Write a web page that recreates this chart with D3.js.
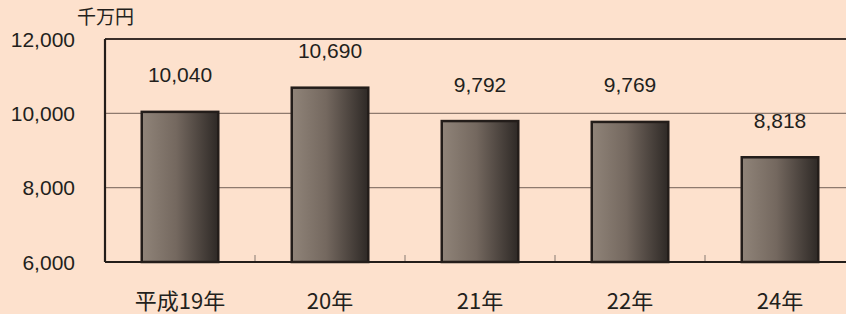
<!DOCTYPE html>
<html lang="ja">
<head>
<meta charset="UTF-8">
<title>千万円 bar chart</title>
<script src="https://d3js.org/d3.v7.min.js"></script>
<style>
  body { margin: 0; background: #fde1cd; }
  svg { display: block; }
  .num { font-family: "Liberation Sans", Arial, sans-serif; font-size: 21px; fill: #231f1c; }
  .jp { font-family: "Noto Sans CJK JP", sans-serif; fill: #231f1c; }
</style>
</head>
<body>
<script>
// data
var years = ["平成19年", "20年", "21年", "22年", "24年"];
var amounts = [10040, 10690, 9792, 9769, 8818];
var yTicks = [6000, 8000, 10000, 12000];

const w = 846, h = 314;
const plotLeft = 105, plotTop = 39, plotBottom = 262, bandW = 150;

const svg = d3.select("body").append("svg")
    .attr("width", w)
    .attr("height", h)
    .style("background", "#fde1cd");

var x = d3.scaleBand()
    .domain(years)
    .range([plotLeft, plotLeft + bandW * years.length])
    .paddingInner(0.49)
    .paddingOuter(0.245);

var y = d3.scaleLinear()
    .domain([6000, 12000])
    .range([plotBottom, plotTop]);

// gradient for bars
var grad = svg.append("defs").append("linearGradient")
    .attr("id", "barGrad")
    .attr("x1", "0%").attr("x2", "100%").attr("y1", "0%").attr("y2", "0%");
grad.append("stop").attr("offset", "0%").attr("stop-color", "#908479");
grad.append("stop").attr("offset", "45%").attr("stop-color", "#74685f");
grad.append("stop").attr("offset", "100%").attr("stop-color", "#2e2926");

// gridlines
svg.append("g")
    .selectAll("line")
    .data(yTicks.filter(d => d > 6000 && d < 12000))
    .enter().append("line")
    .attr("x1", plotLeft).attr("x2", w)
    .attr("y1", d => y(d)).attr("y2", d => y(d))
    .attr("stroke", "#8e7a6e").attr("stroke-width", 1.2);

// top border
svg.append("line")
    .attr("x1", plotLeft).attr("x2", w)
    .attr("y1", y(12000)).attr("y2", y(12000))
    .attr("stroke", "#3a2f2a").attr("stroke-width", 2);

// small tick marks between categories
const gap = x.step() - x.bandwidth();
svg.append("g")
    .selectAll("line")
    .data(years.slice(1))
    .enter().append("line")
    .attr("x1", d => x(d) - gap / 2)
    .attr("x2", d => x(d) - gap / 2)
    .attr("y1", plotBottom - 7).attr("y2", plotBottom)
    .attr("stroke", "#9a8a80").attr("stroke-width", 1.2);

// bars
svg.append("g")
    .selectAll("rect")
    .data(amounts)
    .enter().append("rect")
    .attr("x", (d, i) => x(years[i]))
    .attr("y", d => y(d))
    .attr("width", x.bandwidth())
    .attr("height", d => plotBottom - y(d))
    .attr("fill", "url(#barGrad)")
    .attr("stroke", "#231d1a")
    .attr("stroke-width", 2.5);

// axis lines
svg.append("line")
    .attr("x1", plotLeft).attr("x2", plotLeft)
    .attr("y1", plotTop).attr("y2", plotBottom)
    .attr("stroke", "#231d1a").attr("stroke-width", 2.2);
svg.append("line")
    .attr("x1", plotLeft).attr("x2", w)
    .attr("y1", plotBottom).attr("y2", plotBottom)
    .attr("stroke", "#231d1a").attr("stroke-width", 2.2);

// y tick labels
svg.append("g")
    .selectAll("text")
    .data(yTicks)
    .enter().append("text")
    .attr("class", "num")
    .attr("x", 75)
    .attr("y", d => y(d))
    .attr("dy", "0.36em")
    .attr("text-anchor", "end")
    .text(d3.format(","));

// value labels
svg.append("g")
    .selectAll("text")
    .data(amounts)
    .enter().append("text")
    .attr("class", "num")
    .attr("x", (d, i) => x(years[i]) + x.bandwidth() / 2)
    .attr("y", d => y(d) - 37)
    .attr("dy", "0.36em")
    .attr("text-anchor", "middle")
    .text(d3.format(","));

// category labels
svg.append("g")
    .selectAll("text")
    .data(years)
    .enter().append("text")
    .attr("class", "jp")
    .style("font-size", "22px")
    .attr("x", d => x(d) + x.bandwidth() / 2)
    .attr("y", 301)
    .attr("dy", "0.36em")
    .attr("text-anchor", "middle")
    .text(d => d);

// unit
svg.append("text")
    .attr("class", "jp")
    .style("font-size", "19px")
    .attr("x", 77)
    .attr("y", 17)
    .attr("dy", "0.36em")
    .text("千万円");
</script>
</body>
</html>
